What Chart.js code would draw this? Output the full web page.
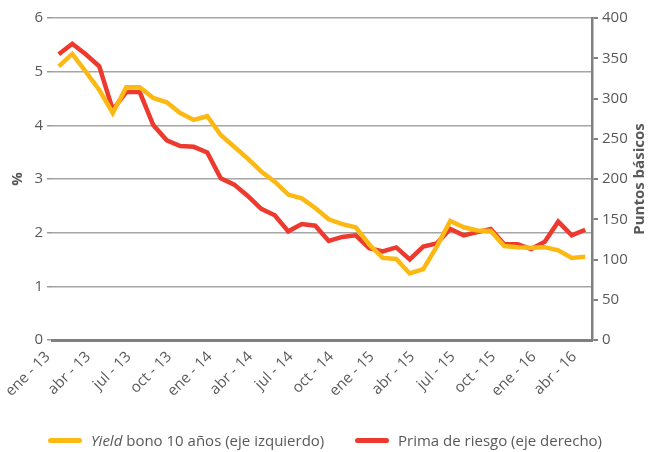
<!DOCTYPE html>
<html>
<head>
<meta charset="utf-8">
<script src="https://cdn.jsdelivr.net/npm/chart.js@4.4.1/dist/chart.umd.min.js"></script>
<style>
  body { margin: 0; background: #fff; }
  #wrap { position: relative; width: 649px; height: 452px; }
  #leyenda { position: absolute; left: 0; top: 429px; width: 649px; font-family: "Open Sans", sans-serif; font-size: 15px; color: #58595b; white-space: nowrap; }
  .item { position: absolute; top: 0; line-height: 22px; }
  .linea { display: inline-block; width: 34px; height: 5px; border-radius: 3px; vertical-align: middle; margin-right: 9px; position: relative; top: -1px; }
</style>
</head>
<body>
<div id="wrap">
  <canvas id="grafico" width="649" height="452"></canvas>
  <div id="leyenda">
    <span class="item" style="left:48px"><span class="linea" style="background:#fdb913"></span><i>Yield</i> bono 10 años (eje izquierdo)</span>
    <span class="item" style="left:355px"><span class="linea" style="background:#ee3a2e"></span>Prima de riesgo (eje derecho)</span>
  </div>
</div>
<script>
var meses = ["ene - 13","feb - 13","mar - 13","abr - 13","may - 13","jun - 13","jul - 13","ago - 13","sep - 13","oct - 13","nov - 13","dic - 13",
             "ene - 14","feb - 14","mar - 14","abr - 14","may - 14","jun - 14","jul - 14","ago - 14","sep - 14","oct - 14","nov - 14","dic - 14",
             "ene - 15","feb - 15","mar - 15","abr - 15","may - 15","jun - 15","jul - 15","ago - 15","sep - 15","oct - 15","nov - 15","dic - 15",
             "ene - 16","feb - 16","mar - 16","abr - 16"];

// yield bono 10 años, % (eje izquierdo)
var yieldBono = [5.10,5.33,5.00,4.66,4.23,4.71,4.71,4.51,4.43,4.23,4.10,4.17,
                 3.82,3.60,3.38,3.14,2.95,2.71,2.64,2.46,2.25,2.16,2.10,1.78,
                 1.53,1.51,1.24,1.32,1.74,2.22,2.10,2.04,2.03,1.75,1.73,1.72,
                 1.73,1.67,1.53,1.55];

// prima de riesgo, puntos básicos (eje derecho)
var primaRiesgo = [355,368,355,340,286,308,308,267,248,241,240,233,
                   201,193,179,163,155,135,144,142,123,128,130,114,
                   110,115,100,116,120,138,130,134,138,119,119,113,
                   122,147,130,137];

var gris = '#58595b';
var fuente = { family: '"Open Sans", sans-serif', size: 15 };

var titulosEjes = {
  id: 'titulosEjes',
  afterDraw: function (chart) {
    var ctx = chart.ctx;
    var area = chart.chartArea;
    var cy = (area.top + area.bottom) / 2;
    ctx.save();
    ctx.fillStyle = gris;
    ctx.font = 'bold 15px "Open Sans", sans-serif';
    ctx.textAlign = 'center';
    ctx.textBaseline = 'middle';
    ctx.translate(18, cy);
    ctx.rotate(-Math.PI / 2);
    ctx.fillText('%', 0, 0);
    ctx.restore();
    ctx.save();
    ctx.fillStyle = gris;
    ctx.font = 'bold 15px "Open Sans", sans-serif';
    ctx.textAlign = 'center';
    ctx.textBaseline = 'middle';
    ctx.translate(640, cy);
    ctx.rotate(-Math.PI / 2);
    ctx.fillText('Puntos básicos', 0, 0);
    ctx.restore();
  }
};

new Chart(document.getElementById('grafico'), {
  type: 'line',
  data: {
    labels: meses,
    datasets: [
      {
        label: 'Yield bono 10 años (eje izquierdo)',
        data: yieldBono,
        yAxisID: 'y',
        borderColor: '#fdb913',
        borderWidth: 4.5,
        pointRadius: 0,
        tension: 0
      },
      {
        label: 'Prima de riesgo (eje derecho)',
        data: primaRiesgo,
        yAxisID: 'y1',
        borderColor: '#ee3a2e',
        borderWidth: 4.5,
        pointRadius: 0,
        tension: 0
      }
    ]
  },
  options: {
    responsive: false,
    animation: false,
    layout: { padding: { top: 18, left: 0, right: 0, bottom: 0 } },
    plugins: {
      legend: { display: false },
      tooltip: { enabled: false }
    },
    scales: {
      x: {
        offset: true,
        grid: { display: false, drawTicks: false },
        border: { display: true, color: '#808080', width: 3 },
        ticks: {
          autoSkip: false,
          minRotation: 45,
          maxRotation: 45,
          padding: 8,
          labelOffset: -11,
          color: gris,
          font: fuente,
          callback: function (val, i) { return i % 3 === 0 ? meses[i] : ''; }
        },
        afterFit: function (s) { s.height = 112; }
      },
      y: {
        position: 'left',
        min: 0,
        max: 6,
        grid: { color: '#a6a6a6', lineWidth: 1.5, tickLength: 5, tickColor: '#9a9a9a' },
        border: { display: false },
        ticks: { stepSize: 1, padding: 4, color: gris, font: fuente },
        afterFit: function (s) { s.width = 52; }
      },
      y1: {
        position: 'right',
        min: 0,
        max: 400,
        grid: { drawOnChartArea: false, tickLength: 6, tickColor: '#808080', lineWidth: 2 },
        border: { display: true, color: '#808080', width: 2.5 },
        ticks: { stepSize: 50, padding: 4, color: gris, font: fuente },
        afterFit: function (s) { s.width = 57; }
      }
    }
  },
  plugins: [titulosEjes]
});
</script>
</body>
</html>
